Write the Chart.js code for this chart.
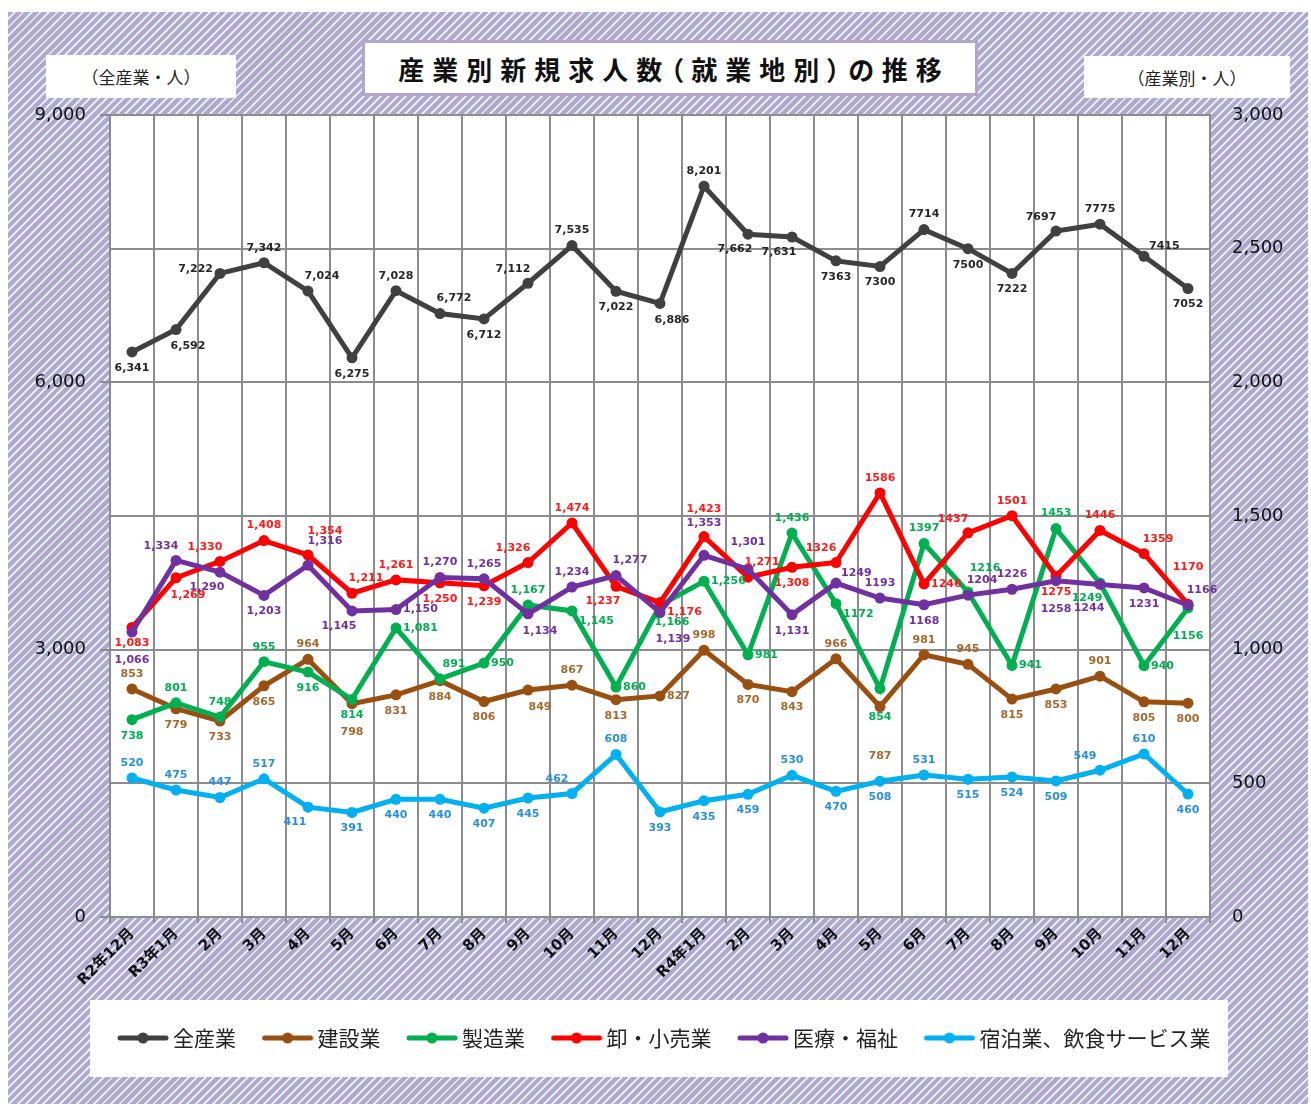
<!DOCTYPE html>
<html lang="ja">
<head>
<meta charset="utf-8">
<title>産業別新規求人数（就業地別）の推移</title>
<script src="https://cdn.jsdelivr.net/npm/chart.js@4"></script>
<style>
  html, body { margin: 0; padding: 0; background: #fff; }
  #wrap { position: relative; width: 1311px; height: 1104px; overflow: hidden; }
  #stripes { position: absolute; left: 8px; top: 12px; width: 1300px; height: 1092px;
    background: repeating-linear-gradient(135deg, #b4a6ce 0 4px, #dceff3 4px 6px); }
  .box { position: absolute; background: #fff; display: flex; align-items: center; justify-content: center;
    font-family: "Noto Sans CJK JP", sans-serif; color: #222; box-sizing: border-box; }
  #title { left: 362px; top: 40px; width: 616px; height: 56px; border: 3px solid #b3a5d0;
    font-weight: bold; font-size: 26px; letter-spacing: 8px; padding-left: 8px; color: #111;
    font-feature-settings: "palt"; }
  #unitL { left: 46px; top: 55px; width: 190px; height: 43px; font-size: 17px; }
  #unitR { left: 1084px; top: 56px; width: 206px; height: 42px; font-size: 17px; }
  #legendBox { left: 90px; top: 1000px; width: 1138px; height: 77px; }
  canvas { position: absolute; left: 0; top: 0; }
</style>
</head>
<body>
<div id="wrap">
  <div id="stripes"></div>
  <div class="box" id="title">産業別新規求人数（就業地別）の推移</div>
  <div class="box" id="unitL">（全産業・人）</div>
  <div class="box" id="unitR">（産業別・人）</div>
  <div class="box" id="legendBox"></div>
  <canvas id="chart" width="1311" height="1104"></canvas>
</div>
<script>
// 月ラベル
const months = ["R2年12月", "R3年1月", "2月", "3月", "4月", "5月", "6月", "7月", "8月", "9月", "10月", "11月", "12月",
  "R4年1月", "2月", "3月", "4月", "5月", "6月", "7月", "8月", "9月", "10月", "11月", "12月"];

// 全産業（左軸）
const allIndustry = [6341, 6592, 7222, 7342, 7024, 6275, 7028, 6772, 6712, 7112, 7535, 7022, 6886,
  8201, 7662, 7631, 7363, 7300, 7714, 7500, 7222, 7697, 7775, 7415, 7052];
// 産業別（右軸）
const construction = [853, 779, 733, 865, 964, 798, 831, 884, 806, 849, 867, 813, 827,
  998, 870, 843, 966, 787, 981, 945, 815, 853, 901, 805, 800];
const manufacturing = [738, 801, 748, 955, 916, 814, 1081, 891, 950, 1167, 1145, 860, 1166,
  1256, 981, 1436, 1172, 854, 1397, 1216, 941, 1453, 1249, 940, 1156];
const retail = [1083, 1269, 1330, 1408, 1354, 1211, 1261, 1250, 1239, 1326, 1474, 1237, 1176,
  1423, 1271, 1308, 1326, 1586, 1246, 1437, 1501, 1275, 1446, 1359, 1170];
const medical = [1066, 1334, 1290, 1203, 1316, 1145, 1150, 1270, 1265, 1134, 1234, 1277, 1139,
  1353, 1301, 1131, 1249, 1193, 1168, 1204, 1226, 1258, 1244, 1231, 1166];
const lodging = [520, 475, 447, 517, 411, 391, 440, 440, 407, 445, 462, 608, 393,
  435, 459, 530, 470, 508, 531, 515, 524, 509, 549, 610, 460];

const seriesNames = ["全産業", "建設業", "製造業", "卸・小売業", "医療・福祉", "宿泊業、飲食サービス業"];

// ラベルの置き場所（点からの向き）
const allPos = "s se w n ne s n ne s nw n s se n sw sw s s n s s nw n en s".split(" ");
const constPos = "n s s s n s2 s s s se n s e n s s n s3 n n s s n s s".split(" ");
const mfgPos = "s n n n s s e ne e n es e se e e n es s2 n ne2 e n sw e s2".split(" ");
const retailPos = "s se nw n ne2 ne n s s nw n sw es n2 ne s nw n e nw n s n ne n4".split(" ");
const medPos = "s2 nw sw s ne2 sw e n n se n ne se2 n3 n2 s en n s ne n s2 sw2 s ne".split(" ");
const lodgingPos = "n n n n sw s s s s s nw n s s s n s s n s s s nw n s".split(" ");

// 途中からカンマなし表記になっている
const COMMA_UNTIL = 16;
function fmt(v, i) {
  return i < COMMA_UNTIL ? v.toLocaleString("en-US") : String(v);
}

const OFFSETS = {
  n: [0, -15], n2: [0, -27], n3: [0, -32], n4: [0, -37],
  s: [0, 16], s2: [0, 28], s3: [0, 50],
  ne: [14, -15], ne2: [17, -24], nw: [-15, -14],
  se: [12, 17], se2: [13, 27], sw: [-13, 15], sw2: [-11, 24]
};

const GRID = "#8c8c8c";

function legendMarker(color) {
  const c = document.createElement("canvas");
  c.width = 52; c.height = 14;
  const g = c.getContext("2d");
  g.strokeStyle = color; g.lineWidth = 5; g.lineCap = "round";
  g.beginPath(); g.moveTo(3, 7); g.lineTo(49, 7); g.stroke();
  g.fillStyle = color;
  g.beginPath(); g.arc(26, 7, 5.5, 0, Math.PI * 2); g.fill();
  return c;
}

const plotBg = {
  id: "plotBg",
  beforeDraw(chart) {
    const { ctx, chartArea: a } = chart;
    ctx.save();
    ctx.fillStyle = "#fff";
    ctx.fillRect(a.left, a.top, a.width, a.height);
    ctx.restore();
  }
};

const pointLabels = {
  id: "pointLabels",
  afterDatasetsDraw(chart) {
    const ctx = chart.ctx;
    ctx.save();
    ctx.font = "bold 11px 'DejaVu Sans', sans-serif";
    ctx.textAlign = "center";
    ctx.textBaseline = "middle";
    chart.data.datasets.forEach((ds, i) => {
      const meta = chart.getDatasetMeta(i);
      ctx.fillStyle = ds.labelColor;
      meta.data.forEach((pt, j) => {
        const text = fmt(ds.data[j], j);
        const w = ctx.measureText(text).width;
        const code = ds.labelPos[j];
        let off;
        if (code === "e") off = [w / 2 + 7, 0];
        else if (code === "es") off = [w / 2 + 7, 10];
        else if (code === "en") off = [w / 2 + 5, -10];
        else if (code === "w") off = [-w / 2 - 7, -4];
        else off = OFFSETS[code];
        ctx.fillText(text, pt.x + off[0], pt.y + off[1]);
      });
    });
    ctx.restore();
  }
};

function makeSet(i, data, color, labelColor, pos, axis) {
  return {
    label: seriesNames[i],
    data,
    yAxisID: axis,
    borderColor: color,
    backgroundColor: color,
    pointBackgroundColor: color,
    pointBorderColor: color,
    borderWidth: 5,
    pointRadius: 5.5,
    pointBorderWidth: 0,
    tension: 0,
    order: 6 - i,
    labelColor,
    labelPos: pos
  };
}

Chart.defaults.font.family = "'DejaVu Sans', 'Noto Sans CJK JP', sans-serif";

new Chart(document.getElementById("chart"), {
  type: "line",
  data: {
    labels: months,
    datasets: [
      makeSet(0, allIndustry, "#404040", "#262626", allPos, "y"),
      makeSet(1, construction, "#994f10", "#a5682e", constPos, "y1"),
      makeSet(2, manufacturing, "#00b050", "#00b050", mfgPos, "y1"),
      makeSet(3, retail, "#ff0000", "#ff1a1a", retailPos, "y1"),
      makeSet(4, medical, "#7030a0", "#7030a0", medPos, "y1"),
      makeSet(5, lodging, "#00b0f0", "#2a8fd8", lodgingPos, "y1")
    ]
  },
  options: {
    responsive: false,
    animation: false,
    layout: { padding: { left: 23, right: 0, top: 115, bottom: 45.5 } },
    scales: {
      x: {
        offset: true,
        grid: { offset: true, color: GRID, lineWidth: 2, tickLength: 6 },
        border: { display: true, color: GRID, width: 2 },
        ticks: {
          autoSkip: false, minRotation: 45, maxRotation: 45, padding: 2,
          color: "#111", font: { size: 15, weight: "bold" }
        },
        afterFit: s => { s.height = 78.5; }
      },
      y: {
        position: "left",
        min: 0, max: 9000,
        ticks: { stepSize: 3000, padding: 14, color: "#111", font: { size: 18 },
          callback: v => v.toLocaleString("en-US") },
        grid: { drawOnChartArea: false, color: GRID, lineWidth: 2, tickLength: 10 },
        border: { display: true, color: GRID, width: 2 },
        afterFit: s => { s.width = 87; }
      },
      y1: {
        position: "right",
        min: 0, max: 3000,
        ticks: { stepSize: 500, padding: 22, color: "#111", font: { size: 18 },
          callback: v => v.toLocaleString("en-US") },
        grid: { color: GRID, lineWidth: 2, drawTicks: false },
        border: { display: true, color: GRID, width: 2 },
        afterFit: s => { s.width = 101; }
      }
    },
    plugins: {
      tooltip: { enabled: false },
      legend: {
        position: "bottom",
        labels: {
          usePointStyle: true,
          pointStyleWidth: 39,
          padding: 32,
          color: "#222",
          font: { size: 21, family: "'Noto Sans CJK JP', sans-serif" },
          generateLabels: chart => chart.data.datasets.map((ds, i) => ({
            text: ds.label,
            pointStyle: legendMarker(ds.borderColor),
            fillStyle: ds.borderColor,
            strokeStyle: ds.borderColor,
            lineWidth: 0,
            fontColor: "#222",
            hidden: !chart.isDatasetVisible(i),
            datasetIndex: i
          }))
        }
      }
    }
  },
  plugins: [plotBg, pointLabels]
});
</script>
</body>
</html>
